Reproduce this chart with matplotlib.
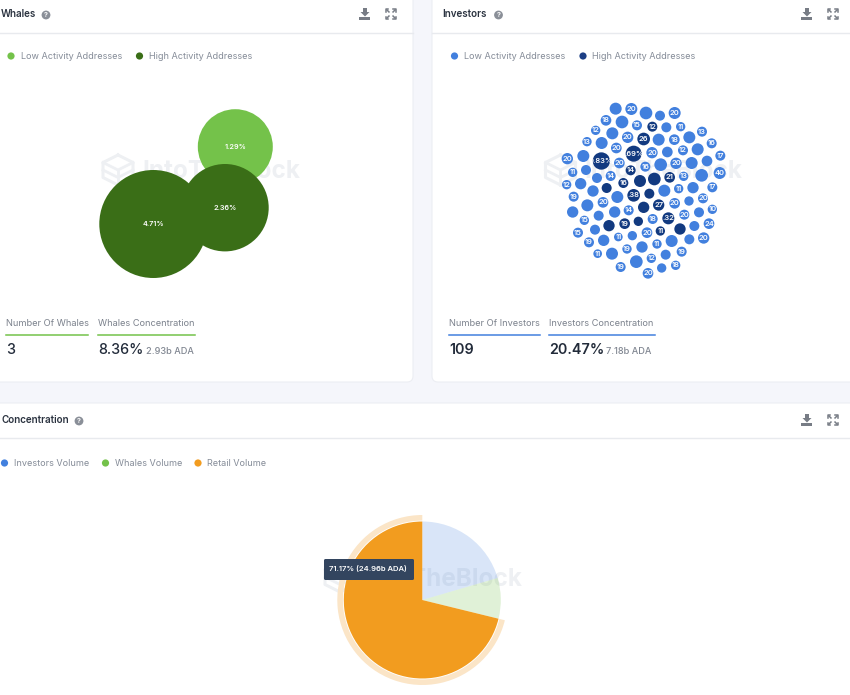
import matplotlib
matplotlib.use("Agg")
import matplotlib.pyplot as plt
from matplotlib.patches import Circle, FancyBboxPatch, Rectangle, Polygon

plt.rcParams['font.family'] = ['Inter', 'DejaVu Sans']

# ---- data ----
whale_labels = ['1.29%', '2.36%', '4.71%']
whale_x = [235.3, 225.0, 153.3]
whale_y = [146.7, 207.7, 224.0]
whale_r = [37.5, 43.7, 54.0]
whale_high = [0, 1, 1]

inv_x = [227,274,318,360,404,198,246,291,337,379,422,167,217,263,311,356,403,448,486,
         141,185,229,281,336,382,429,473,515,82,130,184,238,272,316,362,408,455,501,541,
         98,138,171,212,250,300,343,389,431,485,539,80,122,159,200,281,328,373,416,459,517,
         101,142,189,232,311,356,404,447,489,98,176,224,266,385,433,477,517,
         133,165,207,254,295,338,463,507,114,147,191,235,277,321,361,420,395,448,491,
         173,216,261,306,351,425,377,242,289,334,365,407,324]
inv_y = [56,57,69,77,69,91,96,106,110,112,110,121,130,142,147,149,149,142,125,
         155,159,174,191,188,186,181,178,160,206,198,213,219,241,230,224,220,219,213,197,
         247,240,264,258,279,273,267,262,259,256,249,284,281,303,294,316,311,302,296,293,292,
         320,346,337,321,352,345,340,333,325,366,377,366,361,385,374,367,358,
         391,419,407,401,394,387,408,401,428,457,451,441,437,428,423,417,453,448,444,
         491,491,477,471,462,485,494,531,515,505,534,526,550]
inv_r = [18,18,19,15,18,16,19,15,15,15,14,14,18,17,19,18,16,18,15,
         14,18,16,24,17,16,15,18,15,17,18,26,16,15,15,19,17,18,16,15,
         14,15,15,15,15,18,19,16,14,19,18,14,17,17,15,19,15,18,14,17,15,
         15,18,16,18,17,17,16,14,15,17,15,17,15,18,15,15,14,
         14,15,17,16,14,15,15,16,15,15,17,13,14,16,14,17,18,15,17,
         13,18,14,17,14,15,15,15,19,14,14,14,16]
inv_high = [0,0,0,0,0,0,0,0,1,0,0,0,0,0,1,0,0,0,0,
            0,0,0,1,0,0,0,0,0,0,0,1,0,1,0,0,0,0,0,0,
            0,0,0,0,1,1,1,1,0,0,0,0,0,0,1,1,1,0,0,0,0,
            0,0,0,0,1,1,0,0,0,0,0,0,0,1,0,0,0,
            0,0,1,1,1,0,0,0,0,0,0,0,0,0,1,1,0,0,0,
            0,0,0,0,0,0,0,0,0,0,0,0,0]
inv_labels = ['','20','','','20','18','','15','12','','11','12','','20','26','','18','','13',
              '13','','20','.69%','20','','12','','16','20','','0.83%','20','14','16','','20','','','17',
              '11','','','14','16','','','21','13','','40','12','','','','.38','','','11','','17',
              '19','','20','','','27','20','','20','','','','14','.32','20','','10',
              '15','','','19','','18','','24','15','19','','11','','20','11','','','','20',
              '11','','19','','11','19','','19','','12','','18','20']

pie_names = ['Investors Volume', 'Whales Volume', 'Retail Volume']
pie_values = [20.47, 8.36, 71.17]
tooltip_text = '71.17% (24.96b ADA)'

# ---- colours ----
BG = '#f5f6fb'
LINE = '#e8eaee'
GREEN = '#74c24a'
DGREEN = '#3a6e17'
BLUE = '#4280de'
DBLUE = '#123a80'
ORANGE = '#f29c1f'
GREY = '#858c98'
DARK = '#222b3a'
WM = '#eef0f3'

fig = plt.figure(figsize=(8.5, 6.95), dpi=100, facecolor=BG)
ax = fig.add_axes([0, 0, 1, 1])
ax.set_xlim(0, 850)
ax.set_ylim(695, 0)
ax.axis('off')


def card(x0, y0, x1, y1):
    ax.add_patch(FancyBboxPatch((x0 + 5, y0 + 5), x1 - x0 - 10, y1 - y0 - 10,
                                boxstyle='round,pad=5,rounding_size=6',
                                fc='white', ec='#eceef3', lw=0.8, zorder=1))


def txt(x, y, s, size, color=GREY, weight='normal', ha='left', z=6):
    return ax.text(x, y, s, fontsize=size, color=color, fontweight=weight,
                   ha=ha, va='center', zorder=z)


def header(title, x, y, xhelp, xdl, xexp, x0, x1, yline):
    txt(x, y, title, 7.1, color='#2b3340', weight='semibold')
    ax.plot([x0, x1], [yline, yline], color=LINE, lw=1, zorder=2)
    ax.add_patch(Circle((xhelp, y + 1), 4.4, fc='#8a8f98', ec='none', zorder=5))
    ax.text(xhelp, y + 1, '?', color='white', fontsize=5, fontweight='bold',
            ha='center', va='center', zorder=6)
    # download icon
    ax.add_patch(Polygon([(xdl - 2, y - 6), (xdl + 2, y - 6), (xdl + 2, y - 2), (xdl + 4.5, y - 2),
                          (xdl, y + 2.5), (xdl - 4.5, y - 2), (xdl - 2, y - 2)],
                         fc='#777c85', ec='none', zorder=5))
    ax.add_patch(Rectangle((xdl - 5.5, y + 2.5), 11, 3, fc='#777c85', ec='none', zorder=5))
    # expand icon
    for sx in (-1, 1):
        for sy in (-1, 1):
            ax.plot([xexp + sx * 1.5, xexp + sx * 4.5], [y + sy * 1.5, y + sy * 4.5],
                    color='#777c85', lw=1.1, zorder=5, solid_capstyle='butt')
            ax.plot([xexp + sx * 2.5, xexp + sx * 4.7, xexp + sx * 4.7],
                    [y + sy * 4.7, y + sy * 4.7, y + sy * 2.5],
                    color='#777c85', lw=1.1, zorder=5)


def legend(items, y):
    for xd, xt, col, label in items:
        ax.add_patch(Circle((xd, y), 3.6, fc=col, ec='none', zorder=5))
        txt(xt, y + 0.8, label, 6.55, color=GREY)


def watermark(dx, dy, text='IntoTheBlock'):
    x, y = 118 + dx, 170 + dy
    hexa = [(x, y - 15), (x + 15, y - 7.5), (x + 15, y + 7.5), (x, y + 15), (x - 15, y + 7.5), (x - 15, y - 7.5), (x, y - 15)]
    ax.plot(*zip(*hexa), color=WM, lw=2.2, zorder=2)
    ax.plot([x - 15, x, x + 15], [y - 7.5, y, y - 7.5], color=WM, lw=2, zorder=2)
    ax.plot([x - 15, x, x + 15], [y, y + 7.5, y], color=WM, lw=2, zorder=2)
    ax.plot([x, x], [y, y + 15], color=WM, lw=2, zorder=2)
    ax.text(300 + dx, 172 + dy, text, fontsize=17.5, color=WM, fontweight='bold',
            ha='right', va='center', zorder=2)


def stat(x, y_label, label, line_x0, line_x1, col, value, vweight, vx_small, small):
    txt(x, y_label, label, 6.65, color='#7c828d')
    ax.plot([line_x0, line_x1], [334.5, 334.5], color=col, lw=1.1, zorder=5)
    txt(x, 349.7, value, 10.3, color=DARK, weight=vweight)
    if small:
        txt(vx_small, 351, small, 6.6, color='#808691', weight='medium')


card(-12, -12, 413, 382)
card(432, -12, 862, 382)
card(-12, 403, 862, 707)

# Whales panel
header('Whales', 1, 14, 46, 365, 391, 0, 413, 33)
legend([(11, 21, GREEN, 'Low Activity Addresses'), (139.5, 149, DGREEN, 'High Activity Addresses')], 56)
watermark(0, 0)
for x, y, r, h, lab in zip(whale_x, whale_y, whale_r, whale_high, whale_labels):
    ax.add_patch(Circle((x, y), r, fc=DGREEN if h else GREEN, ec='none', zorder=3))
    ax.text(x, y, lab, color='white', fontsize=5.2, fontweight='semibold',
            ha='center', va='center', zorder=4)
stat(6.5, 323, 'Number Of Whales', 6, 88, GREEN, '3', 'medium', 0, '')
stat(98.5, 323, 'Whales Concentration', 98, 195, GREEN, '8.36%', 'medium', 146, '2.93b ADA')

# Investors panel
header('Investors', 442.5, 14, 498.5, 807, 833, 432, 850, 33)
legend([(454.5, 464, BLUE, 'Low Activity Addresses'), (583, 592, '#1c3f85', 'High Activity Addresses')], 56)
watermark(442.5, 0)
for x, y, r, h, lab in zip(inv_x, inv_y, inv_r, inv_high, inv_labels):
    px, py = 540 + x / 3, 90 + y / 3
    c = Circle((px, py), r / 3, fc=DBLUE if h else BLUE, ec='none', zorder=3)
    ax.add_patch(c)
    if lab:
        t = ax.text(px, py, lab, color='white', fontsize=5.4, fontweight='semibold',
                    ha='center', va='center', zorder=4)
        t.set_clip_path(c)
stat(449.5, 323, 'Number Of Investors', 449, 540, BLUE, '109', 'semibold', 0, '')
stat(549.5, 323, 'Investors Concentration', 549, 655, BLUE, '20.47%', 'semibold', 606, '7.18b ADA')

# Concentration panel
header('Concentration', 1, 420, 79, 807, 833, 0, 850, 438)
legend([(4.5, 14, BLUE, pie_names[0]), (105.5, 115, GREEN, pie_names[1]), (198, 207, ORANGE, pie_names[2])], 463)
watermark(222, 407)

W, H = 850, 695
cx, cy, half = 422.3, 600.0, 95.0
pax = fig.add_axes([(cx - half) / W, 1 - (cy + half) / H, 2 * half / W, 2 * half / H])
pax.patch.set_alpha(0)
pax.pie(pie_values, colors=[(0.26, 0.50, 0.87, 0.2), (0.45, 0.76, 0.29, 0.22), ORANGE],
        startangle=90, counterclock=False, radius=78.5, center=(0, 0))
pax.pie(pie_values, colors=['none', 'none', '#fbe5c7'], startangle=90, counterclock=False,
        radius=85, center=(0, 0), wedgeprops=dict(width=5.6))
pax.set_xlim(-half, half)
pax.set_ylim(-half, half)
pax.set_aspect('equal')
pax.axis('off')

top = fig.add_axes([0, 0, 1, 1], zorder=5)
top.patch.set_alpha(0)
top.set_xlim(0, 850)
top.set_ylim(695, 0)
top.axis('off')
top.add_patch(FancyBboxPatch((325, 560), 88, 19, boxstyle='round,pad=1,rounding_size=1.5',
                             fc='#33455f', ec='none'))
top.text(329.5, 569, tooltip_text, color='white', fontsize=5.5, fontweight='semibold',
         ha='left', va='center')

fig.savefig('out.png', dpi=100, facecolor=BG)
